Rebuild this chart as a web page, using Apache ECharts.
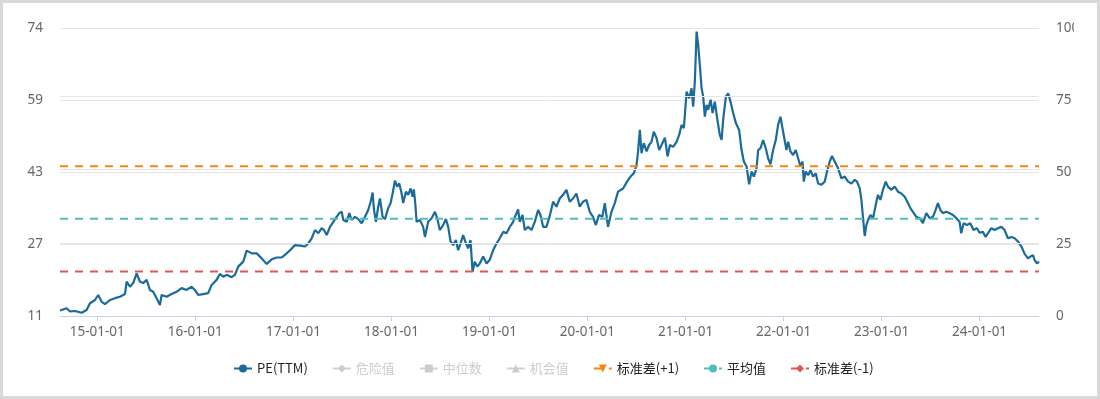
<!DOCTYPE html>
<html><head><meta charset="utf-8">
<script src="https://cdn.jsdelivr.net/npm/echarts@6/dist/echarts.min.js"></script>
<style>
html,body{margin:0;padding:0;background:#fff;}
#wrap{position:relative;width:1100px;height:399px;overflow:hidden;background:#fff;}
#chart{position:absolute;left:0;top:0;width:1074px;height:399px;}
#frame{position:absolute;left:0;top:0;width:1100px;height:399px;box-sizing:border-box;border:3px solid #d9d9d9;pointer-events:none;}
</style></head>
<body><div id="wrap"><div id="chart"></div><div id="frame"></div></div>
<script>
// ---- data (dates as decimal years) ----
const peDates = [
2014.620,2014.688,2014.722,2014.773,2014.841,2014.858,2014.892,2014.926,2014.977,2015.010,
2015.045,2015.079,2015.130,2015.181,2015.232,2015.283,2015.300,2015.334,2015.367,2015.402,
2015.436,2015.469,2015.504,2015.538,2015.571,2015.606,2015.640,2015.657,2015.708,2015.759,
2015.810,2015.861,2015.912,2015.963,2015.996,2016.030,2016.081,2016.132,2016.167,2016.218,
2016.251,2016.285,2016.320,2016.371,2016.404,2016.438,2016.489,2016.524,2016.575,2016.626,
2016.677,2016.728,2016.779,2016.830,2016.881,2016.931,2016.965,2017.016,2017.067,2017.118,
2017.152,2017.186,2017.220,2017.254,2017.288,2017.312,2017.339,2017.373,2017.407,2017.441,
2017.468,2017.492,2017.509,2017.543,2017.570,2017.594,2017.628,2017.661,2017.696,2017.730,
2017.763,2017.788,2017.808,2017.822,2017.842,2017.865,2017.883,2017.910,2017.934,2017.967,
2017.992,2018.012,2018.036,2018.059,2018.080,2018.104,2018.120,2018.148,2018.171,2018.196,
2018.216,2018.229,2018.243,2018.257,2018.291,2018.324,2018.342,2018.375,2018.410,2018.444,
2018.467,2018.494,2018.528,2018.556,2018.579,2018.604,2018.630,2018.658,2018.681,2018.706,
2018.732,2018.760,2018.783,2018.807,2018.828,2018.851,2018.875,2018.902,2018.936,2018.971,
2019.004,2019.038,2019.073,2019.106,2019.140,2019.175,2019.208,2019.242,2019.269,2019.293,
2019.310,2019.338,2019.361,2019.395,2019.429,2019.463,2019.497,2019.521,2019.548,2019.582,
2019.616,2019.650,2019.684,2019.718,2019.752,2019.786,2019.820,2019.854,2019.888,2019.922,
2019.956,2019.990,2020.024,2020.058,2020.085,2020.119,2020.153,2020.177,2020.210,2020.245,
2020.279,2020.312,2020.363,2020.404,2020.439,2020.472,2020.500,2020.516,2020.534,2020.551,
2020.574,2020.602,2020.628,2020.653,2020.676,2020.704,2020.731,2020.755,2020.789,2020.816,
2020.840,2020.873,2020.908,2020.934,2020.959,2020.982,2021.010,2021.036,2021.061,2021.077,
2021.094,2021.112,2021.128,2021.145,2021.163,2021.179,2021.196,2021.214,2021.230,2021.255,
2021.275,2021.298,2021.322,2021.349,2021.367,2021.383,2021.411,2021.434,2021.458,2021.485,
2021.513,2021.546,2021.571,2021.594,2021.622,2021.648,2021.673,2021.696,2021.724,2021.740,
2021.764,2021.791,2021.818,2021.842,2021.866,2021.893,2021.920,2021.944,2021.968,2021.995,
2022.012,2022.029,2022.046,2022.070,2022.097,2022.124,2022.148,2022.172,2022.193,2022.206,
2022.226,2022.250,2022.274,2022.301,2022.328,2022.352,2022.386,2022.420,2022.443,2022.471,
2022.494,2022.522,2022.556,2022.590,2022.624,2022.658,2022.692,2022.726,2022.749,2022.777,
2022.794,2022.811,2022.828,2022.845,2022.862,2022.886,2022.913,2022.940,2022.963,2022.988,
2023.014,2023.042,2023.065,2023.100,2023.134,2023.167,2023.202,2023.236,2023.269,2023.294,
2023.320,2023.355,2023.389,2023.422,2023.457,2023.491,2023.524,2023.552,2023.575,2023.600,
2023.626,2023.661,2023.694,2023.728,2023.763,2023.796,2023.813,2023.837,2023.871,2023.905,
2023.938,2023.973,2024.000,2024.034,2024.062,2024.085,2024.120,2024.153,2024.187,2024.222,
2024.255,2024.289,2024.324,2024.357,2024.391,2024.426,2024.459,2024.493,2024.517,2024.544,
2024.561,2024.585,2024.605
];
const peValues = [
12.2,12.7,12.0,12.1,11.7,11.4,12.3,13.8,14.5,15.6,
14.1,13.6,14.5,14.9,15.2,15.8,18.5,17.4,18.2,20.3,
18.5,18.2,18.9,16.7,16.3,14.9,13.4,15.6,15.2,15.8,
16.3,17.1,16.7,17.4,16.7,15.6,15.8,16.0,17.8,18.9,
20.2,19.6,20.0,19.5,20.0,21.8,22.9,25.3,24.7,24.7,
23.6,22.4,23.4,23.8,23.8,24.7,25.4,26.5,26.4,26.2,
26.9,28.0,29.8,29.1,30.2,29.8,28.7,30.5,31.6,32.7,
33.5,33.8,32.0,31.6,33.5,32.0,32.7,32.2,31.3,32.7,
34.2,36.0,38.0,34.2,31.6,34.9,36.7,32.7,32.2,34.6,
35.7,37.8,40.6,39.3,40.0,37.8,35.7,38.2,37.5,38.9,
37.1,38.7,35.7,31.6,32.0,30.5,28.3,31.6,32.4,33.8,
32.4,29.8,30.9,32.2,30.5,27.3,26.5,27.6,25.4,26.9,
28.7,26.9,25.8,27.6,20.7,22.9,21.8,22.5,24.0,22.5,
23.3,25.4,26.9,28.0,29.4,29.1,30.5,31.6,33.1,34.3,
31.6,33.1,29.8,30.5,29.8,31.6,34.2,33.1,30.5,30.5,
32.9,36.0,34.9,36.7,37.5,38.6,36.0,36.7,37.8,34.9,
36.0,36.4,33.8,32.7,30.9,33.1,32.7,35.7,30.5,33.8,
35.7,38.2,38.9,40.4,41.5,42.2,44.0,47.0,51.7,46.6,
48.8,47.0,48.4,49.1,51.3,49.9,47.3,48.4,50.0,45.9,
48.4,48.0,49.1,50.6,52.8,52.1,60.1,58.6,60.8,56.8,
62.3,73.2,70.3,65.9,60.8,59.0,54.6,57.2,56.1,58.3,
55.4,57.9,54.2,50.6,49.5,53.9,59.0,59.7,57.9,55.4,
53.2,51.7,47.3,44.8,43.7,39.8,42.6,41.5,43.3,47.3,
47.7,49.5,47.7,45.5,44.2,47.3,49.5,52.8,54.6,51.3,
51.0,47.3,49.1,47.0,46.2,47.3,45.5,43.7,44.8,40.4,
42.6,41.8,42.9,41.5,42.2,40.0,39.7,40.4,42.6,44.8,
46.0,44.8,43.3,41.1,41.5,40.4,40.0,40.8,40.4,38.9,
36.4,32.4,28.5,30.9,32.0,33.1,32.4,35.3,37.5,36.4,
38.6,40.4,39.3,38.6,39.3,38.2,37.8,37.1,35.7,34.6,
33.8,32.7,32.4,31.3,33.5,32.4,32.7,34.2,35.7,34.2,
33.5,33.8,33.5,33.1,32.4,31.6,29.1,31.3,30.9,31.3,
29.8,30.2,29.2,29.4,28.3,29.1,30.2,29.8,30.2,30.5,
29.8,28.0,28.3,28.0,27.3,26.2,24.6,23.6,24.0,24.3,
23.2,22.5,22.9
];
const stdPlus1 = 43.75;
const meanValue = 32.25;
const stdMinus1 = 20.75;
const xStartYear = 2014.620;
const xEndYear = 2024.605;
const xTickYears = [2015,2016,2017,2018,2019,2020,2021,2022,2023,2024];
const leftTicks = [11, 26.75, 42.5, 58.25, 74];
const leftMin = 11, leftMax = 74;
const rightMin = 0, rightMax = 100, rightInterval = 25;
const extraGridValues = [27, 43, 59];
const seriesNames = ['PE(TTM)','危险值','中位数','机会值','标准差(+1)','平均值','标准差(-1)'];

// ---- helpers ----
function yearToTime(y){
  const yr = Math.floor(y);
  const s = new Date(yr,0,1).getTime(), e = new Date(yr+1,0,1).getTime();
  return s + (y - yr) * (e - s);
}
function pad(n){return (n<10?'0':'')+n;}
const xStart = yearToTime(xStartYear), xEnd = yearToTime(xEndYear);
const tickTimes = xTickYears.map(y => new Date(y,0,1).getTime());
const peData = peDates.map((d,i) => [yearToTime(d), peValues[i]]);
const flat = v => [[xStart, v],[xEnd, v]];

const axisFont = {fontFamily:'Noto Sans', fontSize:13.5, color:'#666'};
const dash = [8,7];

const chart = echarts.init(document.getElementById('chart'), null, {renderer:'canvas'});
chart.setOption({
  animation:false,
  grid:{left:60, right:35, top:28, bottom:83, containLabel:false, outerBoundsMode:'none'},
  legend:{
    data: seriesNames,
    left:233, top:362, padding:0,
    itemWidth:18, itemHeight:10, itemGap:24,
    inactiveColor:'#ccc',
    textStyle:{fontFamily:'Noto Sans CJK SC', fontSize:13, color:'#222'},
    selected:{'危险值':false,'中位数':false,'机会值':false}
  },
  xAxis:{
    type:'value', min:xStart, max:xEnd,
    axisLine:{lineStyle:{color:'#c8d3e6'}},
    axisTick:{show:true, length:5, customValues:tickTimes, lineStyle:{color:'#c8d3e6'}},
    axisLabel:Object.assign({margin:9, customValues:tickTimes, formatter:function(v){
      const d = new Date(v);
      return String(d.getFullYear()).slice(2)+'-'+pad(d.getMonth()+1)+'-'+pad(d.getDate());
    }}, axisFont),
    splitLine:{show:false}
  },
  yAxis:[
    {type:'value', position:'left', min:leftMin, max:leftMax,
     axisLine:{show:false}, axisTick:{show:false}, splitLine:{show:false},
     axisLabel:Object.assign({margin:17, customValues:leftTicks, formatter:v=>String(Math.ceil(v))}, axisFont)},
    {type:'value', position:'right', min:rightMin, max:rightMax, interval:rightInterval,
     axisLine:{show:false}, axisTick:{show:false},
     splitLine:{show:true, lineStyle:{color:'#e6e6e6', width:1}},
     axisLabel:Object.assign({margin:17}, axisFont)}
  ],
  series:[
    {name:'PE(TTM)', type:'line', yAxisIndex:0, data:peData, showSymbol:false, symbol:'circle',
     color:'#1b6b9a', lineStyle:{width:2.2, color:'#1b6b9a'}, z:3,
     markLine:{silent:true, symbol:['none','none'], label:{show:false},
       lineStyle:{color:'#e6e6e6', type:'solid', width:1},
       data: extraGridValues.map(v=>({yAxis:v}))}},
    {name:'危险值', type:'line', yAxisIndex:0, data:[], showSymbol:false, symbol:'diamond', color:'#999', lineStyle:{width:2, type:dash}},
    {name:'中位数', type:'line', yAxisIndex:0, data:[], showSymbol:false, symbol:'rect', color:'#999', lineStyle:{width:2, type:dash}},
    {name:'机会值', type:'line', yAxisIndex:0, data:[], showSymbol:false, symbol:'triangle', color:'#999', lineStyle:{width:2, type:dash}},
    {name:'标准差(+1)', type:'line', yAxisIndex:0, data:flat(stdPlus1), showSymbol:false,
     symbol:'path://M0,0 L10,0 L5,9 Z', color:'#f7860e', lineStyle:{width:2, type:dash, color:'#f7860e'}},
    {name:'平均值', type:'line', yAxisIndex:0, data:flat(meanValue), showSymbol:false,
     symbol:'circle', color:'#4dbdbd', lineStyle:{width:2, type:dash, color:'#4dbdbd'}},
    {name:'标准差(-1)', type:'line', yAxisIndex:0, data:flat(stdMinus1), showSymbol:false,
     symbol:'diamond', color:'#e05555', lineStyle:{width:2, type:dash, color:'#e05555'}}
  ]
});
</script>
</body></html>
